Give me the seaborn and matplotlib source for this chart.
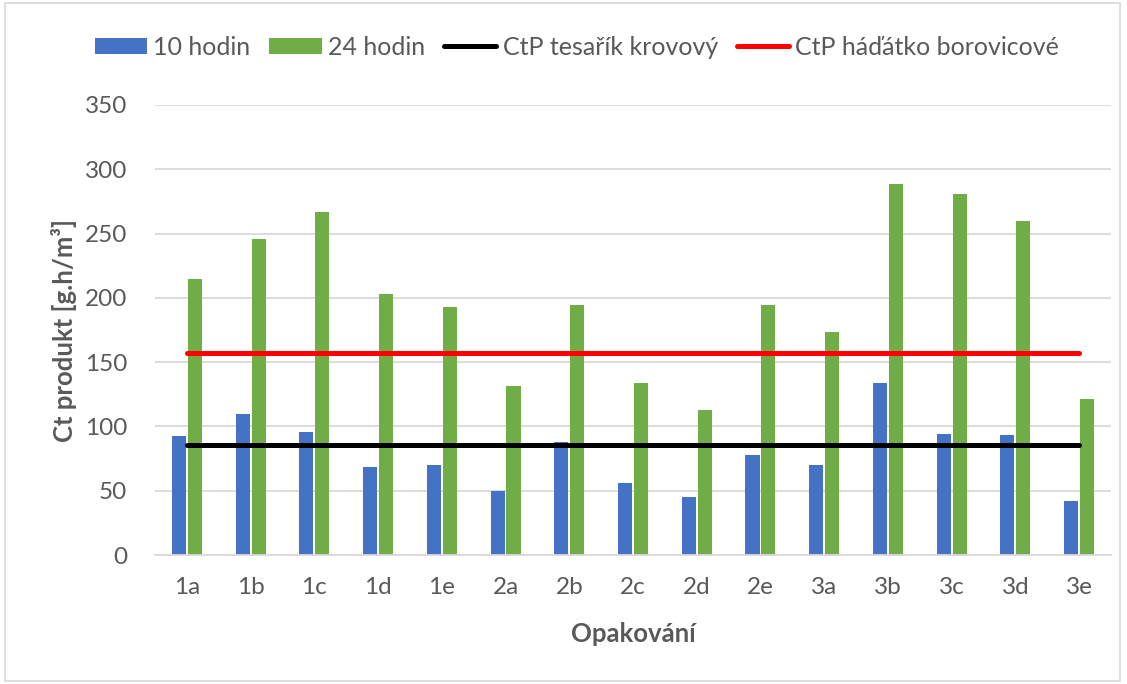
import numpy as np
import pandas as pd
import matplotlib
matplotlib.use("Agg")
import matplotlib.pyplot as plt
import seaborn as sns
from matplotlib.patches import Patch, Rectangle
from matplotlib.lines import Line2D

categories = ["1a", "1b", "1c", "1d", "1e", "2a", "2b", "2c", "2d", "2e",
              "3a", "3b", "3c", "3d", "3e"]
hod10 = [92.6, 109.7, 95.6, 68.4, 70.0, 49.8, 87.9, 56.0, 45.0, 77.8,
         70.0, 133.5, 94.1, 93.6, 42.0]
hod24 = [214.7, 245.5, 266.8, 203.0, 193.0, 131.4, 194.4, 133.8, 112.8, 194.4,
         173.4, 288.6, 281.0, 259.8, 121.0]
ctp_tesarik = [85.3] * len(categories)
ctp_hadatko = [157.3] * len(categories)
series_names = ["10 hodin", "24 hodin", "CtP tesařík krovový", "CtP háďátko borovicové"]
y_ticks = [0, 50, 100, 150, 200, 250, 300, 350]

TXT = "#595959"
BLUE = "#4472C4"
GREEN = "#70AD47"

sns.set_theme(style="white")
plt.rcParams["font.family"] = ["Lato", "DejaVu Sans"]

fig = plt.figure(figsize=(11.27, 6.84), dpi=100)
ax = fig.add_axes([155 / 1127, 1 - 555 / 684, (1111 - 155) / 1127, (555 - 105) / 684])

df = pd.DataFrame({
    "cat": categories * 2,
    "val": hod10 + hod24,
    "series": [series_names[0]] * len(categories) + [series_names[1]] * len(categories),
})
sns.barplot(data=df, x="cat", y="val", hue="series", order=categories,
            hue_order=series_names[:2], palette=[BLUE, GREEN], saturation=1,
            width=0.5, gap=0.12, ax=ax, legend=False, linewidth=0, zorder=2)

xpos = np.arange(len(categories))
sns.lineplot(x=xpos, y=ctp_tesarik, color="black", linewidth=3.6, ax=ax,
             solid_capstyle="round", zorder=3)
sns.lineplot(x=xpos, y=ctp_hadatko, color="#FF0000", linewidth=3.6, ax=ax,
             solid_capstyle="round", zorder=3)

ax.set_xlim(-0.5, len(categories) - 0.5)
ax.set_ylim(0, 350)
ax.set_yticks(y_ticks)
ax.set_xticks(xpos)
ax.set_xticklabels(categories)
ax.yaxis.grid(True, color="#D9D9D9", linewidth=1.3, zorder=0)
ax.set_axisbelow(True)
for s in ["top", "right", "left"]:
    ax.spines[s].set_visible(False)
ax.spines["bottom"].set_color("#D9D9D9")
ax.spines["bottom"].set_linewidth(1.3)
ax.tick_params(axis="both", length=0, labelsize=17.5, labelcolor=TXT)
ax.tick_params(axis="y", pad=20)
ax.tick_params(axis="x", pad=16)
ax.set_ylabel("Ct produkt [g.h/m³]", fontsize=18.5, fontweight="bold", color=TXT, labelpad=6)
ax.set_xlabel("Opakování", fontsize=18.5, fontweight="bold", color=TXT, labelpad=17)

handles = [Patch(facecolor=BLUE, edgecolor="none"),
           Patch(facecolor=GREEN, edgecolor="none"),
           Line2D([0], [0], color="black", linewidth=3.6, solid_capstyle="round"),
           Line2D([0], [0], color="#FF0000", linewidth=3.6, solid_capstyle="round")]
leg = fig.legend(handles, series_names, loc="center", bbox_to_anchor=(0.512, 0.931),
                 ncol=4, frameon=False, fontsize=18, labelcolor=TXT,
                 handlelength=2.1, handleheight=0.6, handletextpad=0.25, columnspacing=0.75)

fig.patches.append(Rectangle((5 / 1127, 3 / 684), 1115 / 1127, 678 / 684,
                             transform=fig.transFigure, fill=False,
                             edgecolor="#D9D9D9", linewidth=1.2))

fig.savefig("out.png", dpi=100)
